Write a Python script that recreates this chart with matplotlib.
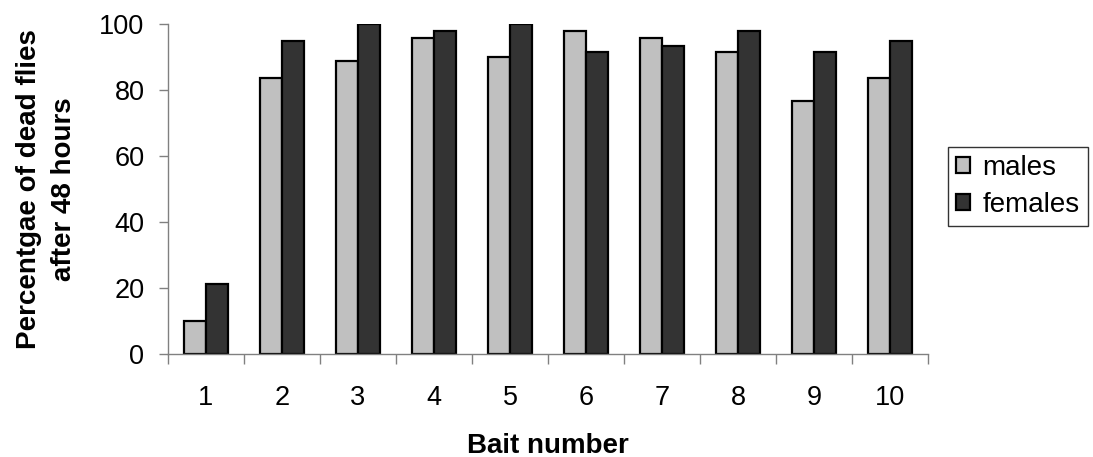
import numpy as np
import matplotlib.pyplot as plt

plt.rcParams['font.family'] = ['Liberation Sans', 'DejaVu Sans']

baits = ['1', '2', '3', '4', '5', '6', '7', '8', '9', '10']
males = [10.0, 83.7, 88.9, 95.8, 90.2, 97.9, 95.8, 91.7, 76.6, 83.7]
females = [21.3, 95.0, 100.0, 97.9, 100.0, 91.7, 93.3, 97.9, 91.7, 95.0]

fig = plt.figure(figsize=(10.93, 4.57), dpi=100)
ax = fig.add_axes([0.1537, 0.2254, 0.6953, 0.7214])

x = np.arange(len(baits))
w = 0.29
ax.bar(x - w/2, males, w, color='#c0c0c0', edgecolor='black', linewidth=1.6, label='males')
ax.bar(x + w/2, females, w, color='#333333', edgecolor='black', linewidth=1.6, label='females')

ax.set_xlim(-0.5, len(baits) - 0.5)
ax.set_ylim(0, 100)
ax.set_yticks(range(0, 101, 20))
ax.set_xticks(x)
ax.set_xticklabels(baits)
# x ticks sit between the groups, labels in the middle
ax.set_xticks(np.arange(-0.5, len(baits), 1), minor=True)
ax.tick_params(axis='x', which='major', length=0, pad=22, labelsize=19.5)
ax.tick_params(axis='x', which='minor', length=7, color='#808080', width=1)
ax.tick_params(axis='y', length=6.5, color='#808080', width=1, pad=10.5, labelsize=19.5)

for s in ['top', 'right']:
    ax.spines[s].set_visible(False)
for s in ['left', 'bottom']:
    ax.spines[s].set_color('#808080')
    ax.spines[s].set_linewidth(1)

ax.set_xlabel('Bait number', fontsize=20, fontweight='bold', labelpad=16)
ax.set_ylabel('Percentgae of dead flies\nafter 48 hours', fontsize=20, fontweight='bold',
              labelpad=16, linespacing=1.45)

leg = fig.legend(loc='upper left', bbox_to_anchor=(0.8673, 0.679), fontsize=20,
                 frameon=True, fancybox=False, edgecolor='black', borderpad=0.3,
                 handlelength=0.5, handleheight=0.5, handletextpad=0.45, labelspacing=0.4,
                 borderaxespad=0)
leg.get_frame().set_linewidth(1)

fig.savefig('out.png', dpi=100)
